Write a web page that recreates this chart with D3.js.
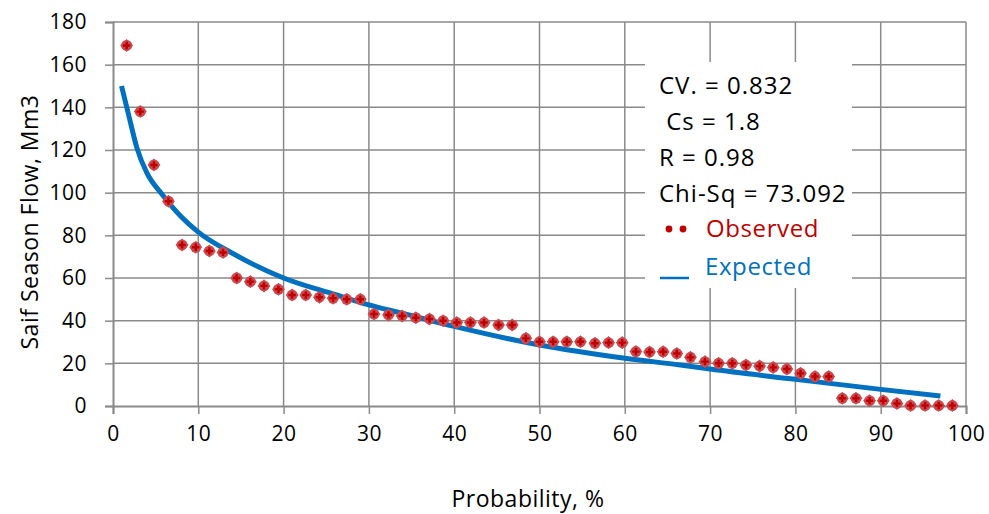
<!DOCTYPE html>
<html>
<head>
<meta charset="utf-8">
<script src="https://cdn.jsdelivr.net/npm/d3@7"></script>
<style>
  body { margin: 0; background: #fff; }
  svg { display: block; font-family: "Open Sans", Lato, sans-serif; }
</style>
</head>
<body>
<div id="chart"></div>
<script>
// observed flows, ranked (probability in %)
const obsProb = [1.6, 3.2, 4.8, 6.5, 8.1, 9.7, 11.3, 12.9, 14.5, 16.1, 17.7, 19.4, 21.0, 22.6, 24.2, 25.8,
  27.4, 29.0, 30.6, 32.3, 33.9, 35.5, 37.1, 38.7, 40.3, 41.9, 43.5, 45.2, 46.8, 48.4, 50.0, 51.6,
  53.2, 54.8, 56.5, 58.1, 59.7, 61.3, 62.9, 64.5, 66.1, 67.7, 69.4, 71.0, 72.6, 74.2, 75.8, 77.4,
  79.0, 80.6, 82.3, 83.9, 85.5, 87.1, 88.7, 90.3, 91.9, 93.5, 95.2, 96.8, 98.4];
const obsFlow = [169, 138, 113, 96, 75.5, 74.4, 72.7, 72.0, 60, 58.3, 56.3, 54.7, 52.0, 52.0, 51.0, 50.5,
  50.0, 50.0, 43.1, 42.7, 42.2, 41.4, 40.8, 40.0, 39.1, 39.1, 39.1, 38.0, 38.0, 31.7, 30.1, 30.1,
  30.1, 30.1, 29.4, 29.7, 29.7, 25.5, 25.3, 25.4, 24.6, 22.8, 20.8, 20.0, 20.0, 19.2, 18.7, 18.1,
  17.3, 15.3, 13.8, 13.8, 3.6, 3.6, 2.5, 2.5, 1.2, 0.2, 0.2, 0.2, 0.2];

// fitted curve
const expProb = [1, 1.8, 2.8, 4, 5.7, 8, 10, 14, 20, 26, 30, 34, 40, 50, 60, 66.5, 70, 80, 90, 97];
const expFlow = [150, 137, 121, 109, 99.5, 88.7, 81.5, 71.6, 60, 52.3, 47.4, 43.4, 37.3, 28.6, 22.4, 19.2, 17.3, 12.5, 7.8, 4.7];

const xTicks = [0, 10, 20, 30, 40, 50, 60, 70, 80, 90, 100];
const yTicks = [0, 20, 40, 60, 80, 100, 120, 140, 160, 180];
const statLines = ['CV. = 0.832', ' Cs = 1.8', 'R = 0.98', 'Chi-Sq = 73.092'];

const width = 989, height = 514;
const margin = {left: 113, right: 23, top: 22, bottom: 108};
const gridColor = '#8a8a8a';

const svg = d3.select('#chart').append('svg')
  .attr('width', width)
  .attr('height', height);

const x = d3.scaleLinear().domain([0, 100]).range([margin.left, width - margin.right]);
const y = d3.scaleLinear().domain([0, 180]).range([height - margin.bottom, margin.top]);

// gridlines
svg.append('g')
  .selectAll('line')
  .data(xTicks.slice(1))
  .enter().append('line')
  .attr('x1', d => x(d)).attr('x2', d => x(d))
  .attr('y1', y(0)).attr('y2', y(180))
  .attr('stroke', gridColor).attr('stroke-width', 1.5);

svg.append('g')
  .selectAll('line')
  .data(yTicks.slice(1))
  .enter().append('line')
  .attr('x1', x(0)).attr('x2', x(100))
  .attr('y1', d => y(d)).attr('y2', d => y(d))
  .attr('stroke', gridColor).attr('stroke-width', 1.5);

// axes
const xAxis = svg.append('g')
  .attr('transform', `translate(0,${y(0)})`)
  .call(d3.axisBottom(x).tickValues(xTicks).tickSize(8).tickPadding(9));
const yAxis = svg.append('g')
  .attr('transform', `translate(${x(0)},0)`)
  .call(d3.axisLeft(y).tickValues(yTicks).tickSize(8).tickPadding(18));

[xAxis, yAxis].forEach(a => {
  a.select('.domain').attr('stroke', gridColor).attr('stroke-width', 2);
  a.selectAll('.tick line').attr('stroke', gridColor).attr('stroke-width', 1.5);
  a.selectAll('.tick text')
    .attr('font-size', 21)
    .attr('letter-spacing', 0.5)
    .attr('fill', '#000')
    .attr('font-family', '"Open Sans", sans-serif');
});
xAxis.selectAll('.tick text').attr('dy', '0.85em');

// axis titles
svg.append('text')
  .attr('x', 528).attr('y', 507)
  .attr('text-anchor', 'middle')
  .attr('font-size', 23)
  .attr('letter-spacing', 0.5)
  .text('Probability, %');

svg.append('text')
  .attr('transform', `translate(38,${(y(0) + y(180)) / 2 + 8}) rotate(-90)`)
  .attr('text-anchor', 'middle')
  .attr('font-size', 23)
  .attr('letter-spacing', 0.5)
  .text('Saif Season Flow, Mm3');

// expected curve
const line = d3.line()
  .x(d => x(d[0]))
  .y(d => y(d[1]))
  .curve(d3.curveMonotoneX);

svg.append('path')
  .datum(expProb.map((p, i) => [p, expFlow[i]]))
  .attr('d', line)
  .attr('fill', 'none')
  .attr('stroke', '#0070c0')
  .attr('stroke-width', 5);

// observed points
const pts = svg.append('g')
  .selectAll('g')
  .data(obsProb.map((p, i) => [p, obsFlow[i]]))
  .enter().append('g')
  .attr('transform', d => `translate(${x(d[0])},${y(d[1])})`);

pts.append('path')
  .attr('d', d3.symbol(d3.symbolSquare, 85))
  .attr('transform', 'rotate(45)')
  .attr('fill', '#cb4a4f');
pts.append('circle')
  .attr('r', 5.5)
  .attr('fill', '#cb4a4f');
pts.append('path')
  .attr('d', d3.symbol(d3.symbolCross, 30))
  .attr('fill', '#c00000');

// stats box / legend
const lg = svg.append('g');
lg.append('rect')
  .attr('x', 645).attr('y', 62)
  .attr('width', 207).attr('height', 226)
  .attr('fill', '#fff');

lg.selectAll('text.stat')
  .data(statLines)
  .enter().append('text')
  .attr('x', 659)
  .attr('y', (d, i) => 93.5 + i * 36)
  .attr('font-size', 24)
  .attr('letter-spacing', 1)
  .attr('fill', '#000')
  .attr('xml:space', 'preserve')
  .text(d => d);

lg.selectAll('circle.dot')
  .data([669, 683])
  .enter().append('circle')
  .attr('cx', d => d).attr('cy', 229)
  .attr('r', 3.4)
  .attr('fill', '#c00000');
lg.append('text')
  .attr('x', 706).attr('y', 236.5)
  .attr('font-size', 24)
  .attr('letter-spacing', 0.6)
  .attr('fill', '#c00000')
  .text('Observed');

lg.append('line')
  .attr('x1', 660).attr('x2', 689)
  .attr('y1', 278).attr('y2', 278)
  .attr('stroke', '#0070c0').attr('stroke-width', 2.5);
lg.append('text')
  .attr('x', 705).attr('y', 275)
  .attr('font-size', 24)
  .attr('letter-spacing', 0.6)
  .attr('fill', '#0070c0')
  .text('Expected');
</script>
</body>
</html>
